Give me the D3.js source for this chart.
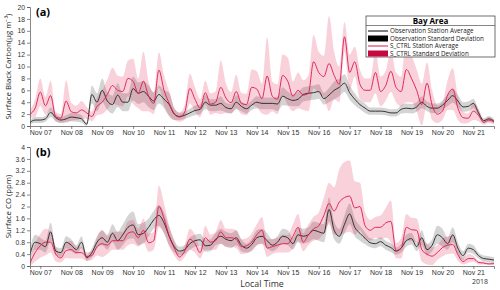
<!DOCTYPE html>
<html>
<head>
<meta charset="utf-8">
<script src="https://cdn.jsdelivr.net/npm/d3@7"></script>
<style>
  body { margin: 0; background: #fff; }
  svg { font-family: "Open Sans", "Liberation Sans", sans-serif; }
  .tick text { fill: #333; }
</style>
</head>
<body>
<script>
// 4-hourly samples, Nov 6 16:00 -> Nov 21 16:00 (91 points)
var t0 = new Date(2018, 10, 6, 16);
var times = d3.range(91).map(function(i) { return d3.timeHour.offset(t0, 4 * i); });

// (a) black carbon, ug m-3
var bcObsMean = [0.6, 1.0,
  1.0, 1.2, 2.3, 1.4, 1.0, 1.2,
  1.5, 1.4, 1.2, 0.3, 5.3, 4.0,
  6.0, 4.2, 3.6, 5.2, 4.0, 4.0,
  6.3, 5.5, 5.8, 5.0, 4.2, 5.3,
  4.5, 3.6, 2.0, 1.6, 1.8, 2.2,
  2.6, 2.8, 4.0, 3.5, 3.5, 3.8,
  3.1, 2.9, 4.0, 3.3, 2.9, 3.5,
  4.0, 3.8, 3.8, 3.8, 3.7, 5.0,
  4.6, 4.3, 4.5, 5.3, 5.5, 5.6,
  5.8, 4.6, 5.2, 6.0, 6.5, 7.2,
  5.6, 4.5, 3.6, 3.0, 2.5, 2.5,
  2.5, 2.4, 2.2, 2.2, 2.8, 3.0,
  2.9, 3.2, 4.0, 3.3, 3.0, 3.0,
  3.5, 4.3, 5.1, 4.2, 3.2, 3.3,
  3.8, 2.2, 0.9, 1.2, 0.8];
var bcObsSd = [0.3, 0.5,
  0.5, 0.5, 0.8, 0.6, 0.5, 0.6,
  0.7, 0.7, 0.6, 0.3, 1.5, 1.5,
  2.0, 1.5, 1.5, 2.0, 1.5, 1.5,
  2.0, 1.8, 1.8, 1.8, 1.5, 1.5,
  1.5, 2.0, 1.0, 0.6, 0.6, 0.7,
  0.8, 0.8, 1.2, 1.0, 1.0, 1.2,
  0.8, 0.8, 1.2, 0.8, 0.8, 0.8,
  1.0, 1.0, 1.0, 1.0, 1.2, 1.5,
  1.2, 1.0, 1.2, 1.2, 1.2, 1.2,
  1.2, 1.0, 1.2, 1.5, 1.5, 1.5,
  1.2, 1.0, 0.8, 0.8, 0.6, 0.6,
  0.6, 0.6, 0.6, 0.6, 0.7, 0.8,
  0.8, 0.8, 1.0, 0.8, 0.8, 0.8,
  0.8, 1.0, 1.2, 1.0, 0.8, 0.8,
  0.8, 0.6, 0.4, 0.5, 0.4];
var bcModMean = [2.0, 3.0,
  5.7, 3.4, 5.1, 1.5, 1.3, 4.2,
  2.4, 2.2, 2.7, 2.2, 1.6, 3.3,
  4.0, 5.3, 6.8, 6.0, 5.8, 8.0,
  7.5, 5.5, 7.5, 5.0, 3.8, 9.4,
  6.0, 3.8, 2.0, 1.5, 2.3, 6.3,
  4.5, 3.0, 5.6, 3.7, 4.0, 6.5,
  4.7, 3.9, 5.8, 3.8, 3.6, 6.5,
  6.2, 4.6, 8.4, 5.0, 4.5, 8.5,
  7.5, 5.0, 6.0, 5.2, 5.5, 10.8,
  9.0, 8.3, 10.5, 8.5, 7.0, 15.0,
  9.0, 10.8, 7.0, 6.0, 6.0, 9.0,
  5.8, 6.8, 9.2, 6.5, 5.8, 9.5,
  8.0, 6.0, 3.6, 7.2, 3.5, 2.0,
  2.5, 5.2, 6.2, 3.0, 1.4, 1.3,
  2.5, 1.8, 0.6, 1.0, 0.7];
var bcModSd = [0.6, 1.5,
  2.3, 1.5, 2.5, 0.8, 0.7, 3.5,
  1.5, 1.2, 1.5, 1.0, 0.8, 1.5,
  2.0, 2.5, 3.0, 2.5, 2.5, 3.0,
  3.8, 2.5, 5.0, 2.5, 1.8, 3.0,
  2.5, 2.0, 1.0, 0.8, 1.2, 2.5,
  2.0, 1.5, 2.0, 1.8, 1.8, 4.5,
  2.5, 1.8, 2.8, 1.8, 1.8, 3.0,
  3.0, 2.5, 6.5, 2.5, 2.5, 3.5,
  4.0, 2.5, 3.0, 2.5, 3.0, 4.5,
  3.5, 3.5, 8.0, 4.0, 3.0, 2.5,
  3.0, 2.5, 2.5, 2.0, 2.0, 3.5,
  2.5, 2.5, 3.5, 2.5, 2.5, 5.5,
  4.0, 3.5, 3.5, 3.5, 2.5, 1.5,
  1.5, 2.5, 3.5, 2.0, 1.0, 0.8,
  1.5, 1.0, 0.4, 0.5, 0.4];

// (b) carbon monoxide, ppm
var coObsMean = [0.4, 0.8,
  0.75, 0.65, 1.15, 0.5, 0.45, 0.8,
  0.7, 0.55, 0.8, 0.28, 0.45, 0.8,
  0.95, 0.8, 1.1, 0.85, 1.05, 1.3,
  1.38, 1.05, 1.1, 1.3, 1.55, 1.7,
  1.45, 1.0, 0.65, 0.5, 0.55, 0.75,
  0.85, 0.88, 0.68, 0.7, 0.9, 1.0,
  0.9, 0.85, 0.95, 0.7, 0.6, 0.72,
  0.95, 1.0, 0.85, 0.7, 0.8, 1.0,
  0.95, 0.75, 1.05, 1.0, 1.05, 1.2,
  1.15, 1.1, 1.9, 1.2, 1.0, 1.4,
  1.75, 1.3, 1.1, 0.93, 0.78, 0.75,
  0.82, 0.7, 0.62, 0.5, 0.6, 0.85,
  0.92, 0.65, 0.95, 0.55, 0.7, 1.05,
  0.95, 0.75, 1.05, 0.6, 0.35, 0.6,
  0.55, 0.35, 0.25, 0.23, 0.2];
var coObsSd = [0.2, 0.25,
  0.2, 0.2, 0.3, 0.15, 0.15, 0.2,
  0.2, 0.15, 0.2, 0.1, 0.15, 0.2,
  0.25, 0.25, 0.3, 0.3, 0.35, 0.4,
  0.45, 0.35, 0.35, 0.3, 0.3, 0.35,
  0.35, 0.3, 0.2, 0.15, 0.15, 0.2,
  0.2, 0.2, 0.2, 0.2, 0.2, 0.25,
  0.25, 0.25, 0.25, 0.2, 0.15, 0.2,
  0.25, 0.25, 0.25, 0.2, 0.2, 0.25,
  0.25, 0.2, 0.25, 0.25, 0.25, 0.3,
  0.3, 0.3, 0.4, 0.3, 0.25, 0.3,
  0.35, 0.3, 0.25, 0.2, 0.15, 0.15,
  0.15, 0.15, 0.15, 0.12, 0.15, 0.2,
  0.2, 0.15, 0.25, 0.2, 0.2, 0.3,
  0.3, 0.2, 0.25, 0.2, 0.15, 0.15,
  0.15, 0.1, 0.1, 0.1, 0.1];
var coModMean = [0.1, 0.45,
  0.68, 0.8, 0.8, 0.4, 0.27, 0.52,
  0.55, 0.45, 0.45, 0.32, 0.35, 0.65,
  0.75, 0.7, 0.85, 0.85, 0.85, 1.1,
  1.15, 0.95, 1.2, 0.78, 0.85, 2.0,
  1.6, 1.0, 0.6, 0.3, 0.5, 0.9,
  0.75, 0.45, 0.95, 0.8, 0.85, 1.15,
  0.95, 0.95, 0.9, 0.65, 0.68, 0.8,
  1.05, 1.2, 0.6, 0.65, 0.7, 0.75,
  0.75, 1.0, 1.3, 0.8, 1.05, 1.25,
  1.35, 1.7, 2.1, 1.85, 2.15, 2.3,
  2.35, 1.95, 2.0, 1.35, 1.2, 1.3,
  1.3, 1.45, 1.5, 0.52, 0.6, 1.3,
  1.22, 1.2, 0.55, 0.4, 0.33, 0.45,
  0.62, 0.7, 0.72, 0.38, 0.15, 0.25,
  0.25, 0.12, 0.1, 0.07, 0.08];
var coModSd = [0.1, 0.3,
  0.4, 0.45, 0.35, 0.25, 0.15, 0.25,
  0.3, 0.2, 0.2, 0.15, 0.15, 0.3,
  0.45, 0.3, 0.3, 0.3, 0.3, 0.4,
  0.4, 0.3, 0.4, 0.3, 0.3, 0.7,
  0.5, 0.35, 0.25, 0.15, 0.2, 0.35,
  0.3, 0.2, 0.4, 0.25, 0.3, 0.4,
  0.3, 0.3, 0.3, 0.25, 0.25, 0.3,
  0.35, 0.45, 0.3, 0.25, 0.25, 0.3,
  0.3, 0.4, 0.45, 0.3, 0.35, 0.4,
  0.45, 0.6, 0.7, 0.8, 1.1, 1.2,
  1.2, 0.9, 0.8, 0.45, 0.35, 0.35,
  0.4, 0.5, 0.7, 0.25, 0.35, 0.45,
  0.4, 0.4, 0.4, 0.35, 0.3, 0.25,
  0.3, 0.3, 0.3, 0.2, 0.1, 0.15,
  0.1, 0.06, 0.05, 0.04, 0.04];

var bcTicks = d3.range(0, 21, 2);
var coTicks = [0, 0.4, 0.8, 1.2, 1.6, 2, 2.4, 2.8, 3.2, 3.6, 4];
var dayTicks = d3.range(7, 22).map(function(d) { return new Date(2018, 10, d); });

var legendLabels = ["Observation Station Average", "Observation Standard Deviation",
  "S_CTRL Station Average", "S_CTRL Standard Deviation"];

var width = 500, height = 290;
var red = "#e0174c", grey = "#222";

var svg = d3.select("body").append("svg")
    .attr("width", width)
    .attr("height", height);

var x = d3.scaleTime()
    .domain([t0, times[times.length - 1]])
    .range([30, 494]);

function panel(id, top, bottom, ymax, yticks, obsMean, obsSd, modMean, modSd, letter, ylabel) {
  var y = d3.scaleLinear().domain([0, ymax]).range([bottom, top]);
  var g = svg.append("g");

  g.append("clipPath").attr("id", id)
    .append("rect").attr("x", 30).attr("y", top).attr("width", 464).attr("height", bottom - top);

  var plot = g.append("g").attr("clip-path", "url(#" + id + ")");

  function band(mean, sd) {
    return d3.area()
      .curve(d3.curveMonotoneX)
      .x(function(d, i) { return x(times[i]); })
      .y0(function(d, i) { return y(Math.max(0, mean[i] - sd[i])); })
      .y1(function(d, i) { return y(mean[i] + sd[i]); })(mean);
  }
  var line = d3.line()
    .curve(d3.curveMonotoneX)
    .x(function(d, i) { return x(times[i]); })
    .y(function(d) { return y(d); });

  plot.append("path").attr("d", band(obsMean, obsSd))
    .attr("fill", "#000").attr("fill-opacity", 0.17);
  plot.append("path").attr("d", band(modMean, modSd))
    .attr("fill", red).attr("fill-opacity", 0.2);
  plot.append("path").attr("d", line(obsMean))
    .attr("fill", "none").attr("stroke", grey).attr("stroke-width", 0.9);
  plot.append("path").attr("d", line(modMean))
    .attr("fill", "none").attr("stroke", red).attr("stroke-width", 0.9);

  var yAxis = g.append("g")
    .attr("transform", "translate(30,0)")
    .call(d3.axisLeft(y).tickValues(yticks).tickSize(3).tickPadding(2)
      .tickFormat(function(d) { return String(+d.toFixed(1)); }));
  yAxis.selectAll("text").style("font-size", "6.8px");

  var xAxis = g.append("g")
    .attr("transform", "translate(0," + bottom + ")")
    .call(d3.axisBottom(x).tickValues(dayTicks).tickSize(3).tickPadding(1.5)
      .tickFormat(d3.timeFormat("Nov %d")));
  xAxis.selectAll("text").style("font-size", "7px");
  g.selectAll(".domain, .tick line").attr("stroke", "#555").attr("stroke-width", 0.7);

  g.append("text")
    .attr("x", 36).attr("y", top + 9)
    .style("font-size", "11px").style("font-weight", "bold")
    .text(letter);

  g.append("text")
    .attr("transform", "translate(11," + ((top + bottom) / 2) + ") rotate(-90)")
    .attr("text-anchor", "middle")
    .style("font-size", "7.8px").attr("fill", "#222")
    .text(ylabel);
}

panel("clipA", 7, 126, 20, bcTicks, bcObsMean, bcObsSd, bcModMean, bcModSd, "(a)",
  "Surface Black Carbon(\u03bcg m\u207b\u00b3)");
panel("clipB", 147, 266, 4, coTicks, coObsMean, coObsSd, coModMean, coModSd, "(b)",
  "Surface CO (ppm)");

svg.append("text")
  .attr("x", 262).attr("y", 287)
  .attr("text-anchor", "middle")
  .style("font-size", "8.8px").attr("fill", "#333")
  .text("Local Time");
svg.append("text")
  .attr("x", 480).attr("y", 284)
  .attr("text-anchor", "middle")
  .style("font-size", "7px").attr("fill", "#333")
  .text("2018");

// legend
var lg = svg.append("g").attr("transform", "translate(366,16)");
lg.append("rect").attr("width", 129).attr("height", 41)
  .attr("fill", "#fff").attr("stroke", "#333").attr("stroke-width", 0.7);
lg.append("line").attr("x1", 0).attr("x2", 129).attr("y1", 9.5).attr("y2", 9.5)
  .attr("stroke", "#333").attr("stroke-width", 0.6);
lg.append("text").attr("x", 64.5).attr("y", 7.8).attr("text-anchor", "middle")
  .style("font-size", "8px").style("font-weight", "bold").text("Bay Area");

var items = lg.selectAll(".item").data(legendLabels).enter().append("g")
  .attr("transform", function(d, i) { return "translate(0," + (15 + i * 7.5) + ")"; });
items.each(function(d, i) {
  var it = d3.select(this);
  var c = i < 2 ? "#000" : red;
  if (i % 2 === 0) {
    it.append("line").attr("x1", 2).attr("x2", 22).attr("y1", 0).attr("y2", 0)
      .attr("stroke", c).attr("stroke-width", 1);
  } else {
    it.append("rect").attr("x", 2).attr("y", -3).attr("width", 20).attr("height", 6)
      .attr("fill", i < 2 ? "#000" : "#c8063f");
  }
  it.append("text").attr("x", 24).attr("y", 2.3)
    .style("font-size", "6.3px").attr("fill", "#222").text(d);
});
</script>
</body>
</html>
